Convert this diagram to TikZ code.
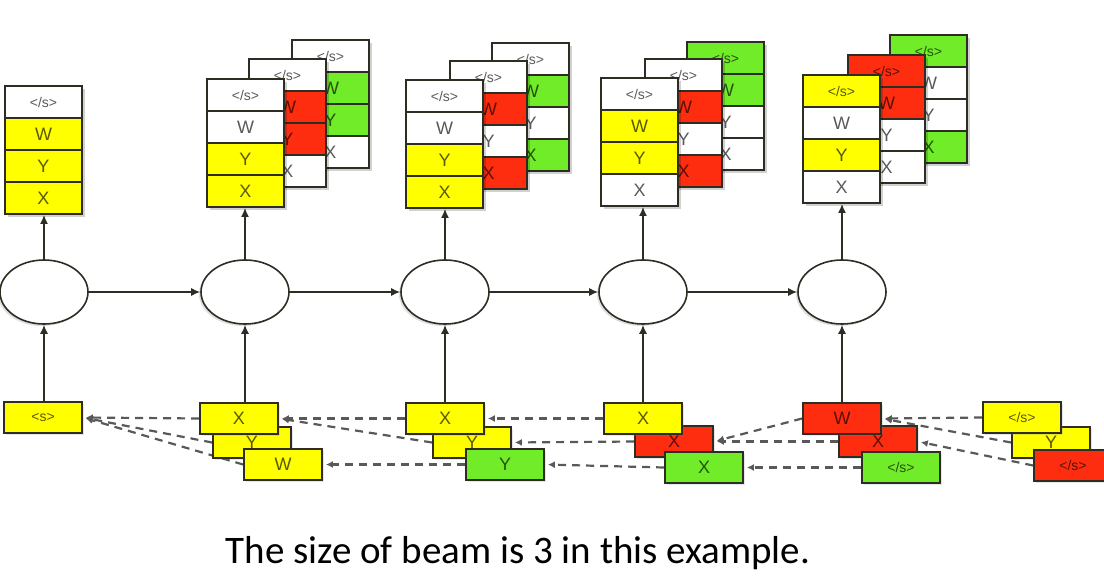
\documentclass[tikz,border=0pt]{standalone}
\usepackage{fontspec}
\usepackage{tikz}
\newfontfamily\boxfont{Liberation Sans}
\newfontfamily\capfont{Carlito}
\definecolor{beamyellow}{RGB}{255,255,0}
\definecolor{beamred}{RGB}{255,45,15}
\definecolor{beamgreen}{RGB}{112,236,40}
\definecolor{framegray}{RGB}{45,45,35}
\usetikzlibrary{arrows.meta, shapes.geometric, shadows, backgrounds}
\newcommand{\eos}{{\fontsize{14}{14}\selectfont </s>}}
\newcommand{\sos}{{\fontsize{14}{14}\selectfont <s>}}
% Ausgabestapel: Name, x, y (oben links), Farben fuer </s>, W, Y, X
\newcommand{\outstack}[7]{%
  \fill[black, opacity=0.18] (#2+3,#3+3) rectangle ++(77,128);
  \foreach \lab/\col [count=\i] in {\eos/#4, W/#5, Y/#6, X/#7}
    \node[cell, fill=\col] (#1-\i) at (#2+38.5, #3-16+32*\i) {\lab};
}
% Eingabebox: Name, x, y (oben links), Farbe, Text
\newcommand{\inbox}[5]{%
  \node[cell, fill=#4, minimum height=31pt, minimum width=78pt, drop shadow={shadow xshift=2pt, shadow yshift=-2pt, opacity=0.2}] (#1) at (#2+39, #3+15.5) {#5};
}

\begin{document}
\begin{tikzpicture}[x=1pt, y=-1pt,
    >={Latex[length=9pt, width=8pt]},   %Pfeilspitzen
    cell/.style={draw=framegray, line width=1.8pt, minimum width=77pt, minimum height=32pt, inner sep=0pt,
      text=black, text opacity=0.65, font={\boxfont\fontsize{18}{18}\selectfont}},
    rnn/.style={ellipse, draw=framegray, line width=1.6pt, fill=white, minimum width=88pt, minimum height=64pt,
      drop shadow={shadow xshift=-2pt, shadow yshift=-2pt, opacity=0.25}},
    conn/.style={draw=framegray, line width=1.4pt},
    back/.style={draw=black!65, line width=2.2pt, dash pattern=on 8pt off 6pt, shorten >=3pt,
      -{Latex[length=7pt, width=7pt]}}]
  \useasboundingbox (0,0) rectangle (1104,581);
  % Zellen
  \foreach \n/\x in {1/44, 2/245, 3/445, 4/643, 5/842}
    \node[rnn] (e\n) at (\x,292) {};
  \foreach \a/\b in {1/2, 2/3, 3/4, 4/5}
    \draw[->, conn] (e\a) -- (e\b);
  % Ausgaben
  \outstack{o1}{5}{86}{white}{beamyellow}{beamyellow}{beamyellow}
  \outstack{o2c}{292}{40}{white}{beamgreen}{beamgreen}{white}
  \outstack{o2b}{249}{59}{white}{beamred}{beamred}{white}
  \outstack{o2a}{207}{79}{white}{white}{beamyellow}{beamyellow}
  \outstack{o3c}{492}{43}{white}{beamgreen}{white}{beamgreen}
  \outstack{o3b}{450}{61}{white}{beamred}{white}{beamred}
  \outstack{o3a}{406}{80}{white}{white}{beamyellow}{beamyellow}
  \outstack{o4c}{687}{42}{beamgreen}{beamgreen}{white}{white}
  \outstack{o4b}{645}{59}{white}{beamred}{white}{beamred}
  \outstack{o4a}{601}{78}{white}{beamyellow}{beamyellow}{white}
  \outstack{o5c}{890}{35}{beamgreen}{white}{white}{beamgreen}
  \outstack{o5b}{848}{55}{beamred}{beamred}{white}{white}
  \outstack{o5a}{803}{75}{beamyellow}{white}{beamyellow}{white}
  % Eingaben
  \inbox{i1}{4}{402}{beamyellow}{\sos}
  \inbox{i2b}{213}{427}{beamyellow}{Y}
  \inbox{i2c}{244}{449}{beamyellow}{W}
  \inbox{i2a}{200}{403}{beamyellow}{X}
  \inbox{i3b}{433}{427}{beamyellow}{Y}
  \inbox{i3c}{466}{449}{beamgreen}{Y}
  \inbox{i3a}{406}{403}{beamyellow}{X}
  \inbox{i4b}{635}{426}{beamred}{X}
  \inbox{i4c}{665}{452}{beamgreen}{X}
  \inbox{i4a}{604}{403}{beamyellow}{X}
  \inbox{i5b}{839}{426}{beamred}{X}
  \inbox{i5c}{862}{452}{beamgreen}{\eos}
  \inbox{i5a}{803}{403}{beamred}{W}
  \inbox{i6b}{1012}{427}{beamyellow}{Y}
  \inbox{i6c}{1034}{450}{beamred}{\eos}
  \inbox{i6a}{983}{402}{beamyellow}{\eos}
  % senkrechte Pfeile
  \foreach \n in {2,3,4,5} {
    \draw[->, conn] (e\n.south |- i\n a.north) -- (e\n.south);
    \draw[->, conn] (e\n.north) -- (e\n.north |- o\n a-4.south);
  }
  \draw[->, conn] (e1.south |- i1.north) -- (e1.south);
  \draw[->, conn] (e1.north) -- (e1.north |- o1-4.south);
  % Rueckverweise
  \begin{pgfonlayer}{background}
    \foreach \s/\t in {i2a/i1, i2b/i1, i2c/i1, i3a/i2a, i3b/i2a, i3c/i2c,
        i4a/i3a, i4b/i3b, i4c/i3c, i5a/i4b, i5b/i4b, i5c/i4c, i6a/i5a, i6b/i5a, i6c/i5b}
      \draw[back] (\s.west) -- (\t.east);
  \end{pgfonlayer}
  % Beschriftung
  \node[font={\capfont\fontsize{39}{44}\selectfont}] (cap) at (518,553) {The size of beam is 3 in this example.};
\end{tikzpicture}
\end{document}
